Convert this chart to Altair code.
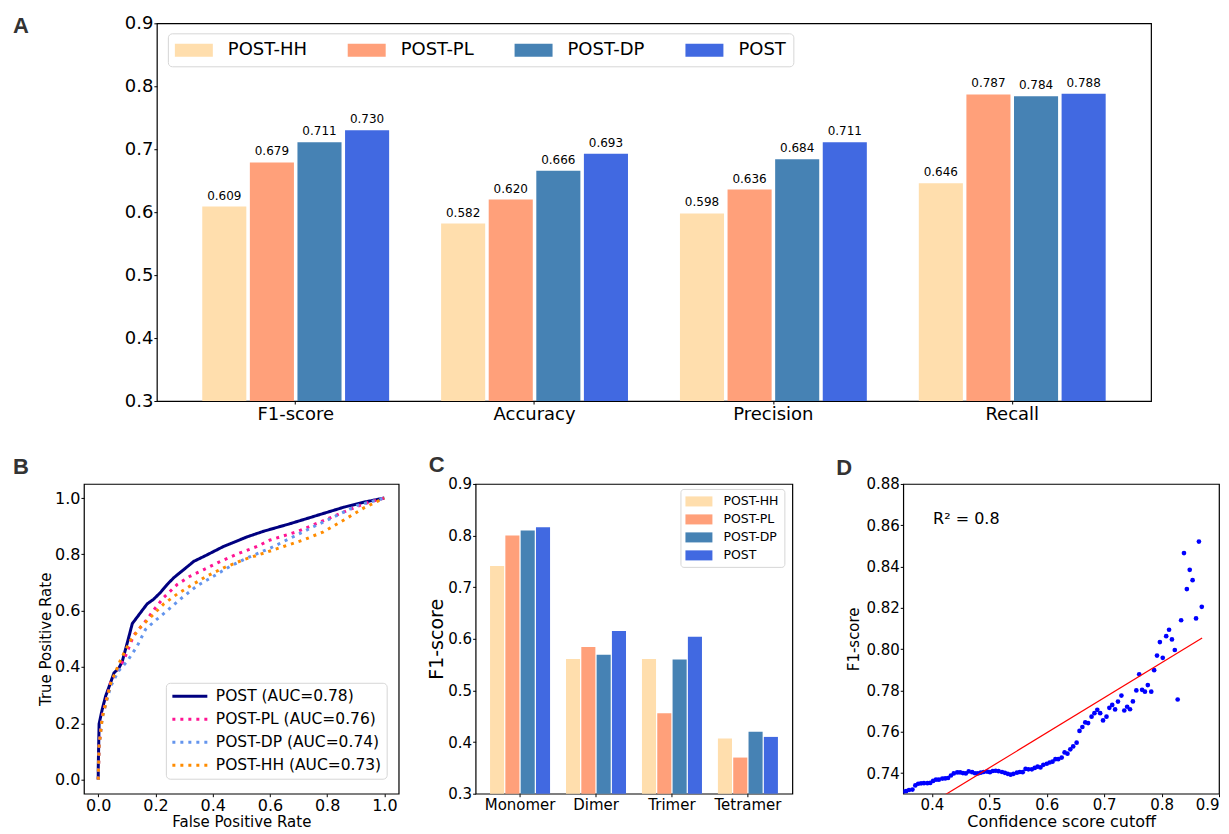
import altair as alt
import pandas as pd

FONT = "DejaVu Sans"

# ---------------- Panel A data ----------------
models = ["POST-HH", "POST-PL", "POST-DP", "POST"]
bar_colors = ["#FFDEAD", "#FFA07A", "#4682B4", "#4169E1"]
metrics = ["F1-score", "Accuracy", "Precision", "Recall"]
a_hh = [0.609, 0.582, 0.598, 0.646]
a_pl = [0.679, 0.620, 0.636, 0.787]
a_dp = [0.711, 0.666, 0.684, 0.784]
a_post = [0.730, 0.693, 0.711, 0.788]

# ---------------- Panel B data ----------------
roc_labels = ["POST (AUC=0.78)", "POST-PL (AUC=0.76)", "POST-DP (AUC=0.74)", "POST-HH (AUC=0.73)"]
roc_colors = ["#000080", "#FF1493", "#6495ED", "#FF8C00"]
roc_dashes = [[1, 0], [3, 5], [3, 5], [3, 5]]
post_fpr = [0, 0, 0.003, 0.014, 0.026, 0.043, 0.055, 0.072, 0.084, 0.101, 0.119, 0.136, 0.153, 0.171,
            0.194, 0.217, 0.241, 0.264, 0.299, 0.334, 0.38, 0.438, 0.52, 0.578, 0.671, 0.764, 0.857, 0.927, 1.0]
post_tpr = [0, 0.04, 0.198, 0.25, 0.297, 0.344, 0.379, 0.396, 0.42, 0.484, 0.554, 0.577, 0.6, 0.624,
            0.641, 0.664, 0.693, 0.717, 0.746, 0.775, 0.798, 0.828, 0.862, 0.882, 0.909, 0.938, 0.967, 0.985, 1.0]
pl_fpr = [0, 0.003, 0.014, 0.043, 0.09, 0.124, 0.159, 0.197, 0.229, 0.276, 0.322, 0.369, 0.427, 0.485,
          0.555, 0.601, 0.694, 0.776, 0.857, 0.927, 1.0]
pl_tpr = [0, 0.12, 0.227, 0.344, 0.425, 0.513, 0.554, 0.606, 0.647, 0.693, 0.723, 0.746, 0.775, 0.801,
          0.828, 0.851, 0.88, 0.915, 0.95, 0.979, 1.0]
dp_fpr = [0, 0.003, 0.014, 0.043, 0.07, 0.101, 0.136, 0.165, 0.194, 0.241, 0.287, 0.345, 0.404, 0.462,
          0.52, 0.601, 0.671, 0.752, 0.834, 0.903, 1.0]
dp_tpr = [0, 0.12, 0.22, 0.33, 0.385, 0.42, 0.474, 0.533, 0.56, 0.6, 0.641, 0.688, 0.723, 0.758,
          0.787, 0.822, 0.857, 0.898, 0.938, 0.973, 1.0]
hh_fpr = [0, 0.003, 0.014, 0.043, 0.078, 0.113, 0.148, 0.183, 0.229, 0.276, 0.322, 0.38, 0.438, 0.508,
          0.578, 0.648, 0.717, 0.787, 0.857, 0.927, 1.0]
hh_tpr = [0, 0.12, 0.22, 0.34, 0.425, 0.495, 0.542, 0.577, 0.624, 0.659, 0.688, 0.723, 0.752, 0.781,
          0.804, 0.828, 0.851, 0.88, 0.921, 0.964, 1.0]

# ---------------- Panel C data ----------------
oligomers = ["Monomer", "Dimer", "Trimer", "Tetramer"]
c_hh = [0.741, 0.561, 0.561, 0.407]
c_pl = [0.800, 0.584, 0.456, 0.370]
c_dp = [0.810, 0.569, 0.560, 0.420]
c_post = [0.816, 0.615, 0.604, 0.410]

# ---------------- Panel D data ----------------
conf_cutoff = [0.350, 0.355, 0.360, 0.366, 0.371, 0.376, 0.381, 0.386, 0.392, 0.397,
               0.402, 0.407, 0.412, 0.418, 0.423, 0.428, 0.433, 0.438, 0.444, 0.449,
               0.454, 0.459, 0.464, 0.470, 0.475, 0.480, 0.485, 0.490, 0.496, 0.501,
               0.506, 0.511, 0.516, 0.522, 0.527, 0.532, 0.537, 0.542, 0.548, 0.553,
               0.558, 0.563, 0.568, 0.574, 0.579, 0.584, 0.589, 0.594, 0.600, 0.605,
               0.610, 0.615, 0.620, 0.626, 0.631, 0.636, 0.641, 0.646, 0.652, 0.657,
               0.662, 0.667, 0.672, 0.678, 0.683, 0.688, 0.693, 0.698, 0.704, 0.709,
               0.714, 0.719, 0.724, 0.730, 0.735, 0.740, 0.745, 0.750, 0.756, 0.761,
               0.766, 0.771, 0.776, 0.782, 0.787, 0.792, 0.797, 0.802, 0.808, 0.813,
               0.818, 0.823, 0.828, 0.834, 0.839, 0.844, 0.849, 0.854, 0.860, 0.865, 0.870]
f1_scores = [0.7310, 0.7312, 0.7318, 0.7320, 0.7340, 0.7348, 0.7350, 0.7351, 0.7351, 0.7352,
             0.7362, 0.7368, 0.7368, 0.7373, 0.7374, 0.7376, 0.7388, 0.7398, 0.7403, 0.7403,
             0.7400, 0.7398, 0.7408, 0.7404, 0.7399, 0.7398, 0.7402, 0.7405, 0.7407, 0.7404,
             0.7410, 0.7411, 0.7409, 0.7405, 0.7401, 0.7396, 0.7392, 0.7396, 0.7402, 0.7405,
             0.7404, 0.7420, 0.7418, 0.7418, 0.7425, 0.7431, 0.7427, 0.7440, 0.7445, 0.7451,
             0.7455, 0.7467, 0.7467, 0.7475, 0.7500, 0.7494, 0.7515, 0.7529, 0.7547, 0.7604,
             0.7623, 0.7645, 0.7642, 0.7673, 0.7690, 0.7706, 0.7690, 0.7655, 0.7673, 0.7716,
             0.7730, 0.7708, 0.7746, 0.7775, 0.7703, 0.7721, 0.7709, 0.7747, 0.7800, 0.7878,
             0.7803, 0.7794, 0.7826, 0.7794, 0.7898, 0.7969, 0.8034, 0.7958, 0.8063, 0.8094,
             0.8047, 0.7996, 0.7756, 0.8140, 0.8465, 0.8291, 0.8384, 0.8334, 0.8149, 0.8521, 0.8205]
fit_x = [0.35, 0.8706]
fit_y = [0.7171, 0.8054]
r2_text = "R² = 0.8"


def letter(ch, dx, dy):
    return alt.Chart(pd.DataFrame({"t": [ch]})).mark_text(
        align="left", baseline="top", fontSize=22, fontWeight="bold",
        font="Liberation Sans", color="#333333"
    ).encode(x=alt.value(dx), y=alt.value(dy), text="t:N")


def qaxis(values, fmt, size, title=None, title_size=None, title_pad=1, flush=False):
    kw = dict(values=values, format=fmt, labelFontSize=size, labelFont=FONT, labelColor="black",
              tickColor="black", tickSize=3, tickWidth=1, labelPadding=1, domain=False, grid=False,
              labelFlush=flush, labelOverlap=False)
    if title is not None:
        kw.update(title=title, titleFontSize=title_size or size, titleFont=FONT,
                  titleFontWeight="normal", titleColor="black", titlePadding=title_pad)
    else:
        kw.update(title=None)
    return alt.Axis(**kw)


def naxis(size):
    return alt.Axis(title=None, labelAngle=0, labelFontSize=size, labelFont=FONT, labelColor="black",
                    tickColor="black", tickSize=3, tickWidth=1, labelPadding=1, domain=False, grid=False)


RES = dict(color="independent", strokeDash="independent", xOffset="independent")
RESL = dict(color="independent", strokeDash="independent")
ROW_H = 310

# ---------------- Panel A ----------------
rows = []
for i, m in enumerate(metrics):
    for mod, vals in zip(models, [a_hh, a_pl, a_dp, a_post]):
        rows.append({"metric": m, "modelA": mod, "value": vals[i]})
dfA = pd.DataFrame(rows)

legA = alt.Legend(title=None, orient="none", legendX=11, legendY=10, direction="horizontal", columns=4,
                  symbolType="M-1,-0.65L2.8,-0.65L2.8,0.65L-1,0.65Z", symbolSize=400,
                  symbolStrokeWidth=0, symbolOpacity=1, labelFontSize=18, labelFont=FONT,
                  labelColor="black", labelOffset=33, columnPadding=40, padding=7,
                  strokeColor="#d6d6d6", fillColor="white", cornerRadius=4, labelLimit=300)

xA = alt.X("metric:N", scale=alt.Scale(domain=metrics, paddingInner=0.2176, paddingOuter=0.19),
           axis=naxis(18))
offA = alt.XOffset("modelA:N", scale=alt.Scale(domain=models, paddingInner=0.074))
yA = alt.Y("value:Q", scale=alt.Scale(domain=[0.3, 0.9], nice=False, zero=False),
           axis=qaxis([0.3, 0.4, 0.5, 0.6, 0.7, 0.8, 0.9], ".1f", 18))
barsA = alt.Chart(dfA).mark_bar().encode(
    x=xA, xOffset=offA, y=yA, y2=alt.datum(0.3),
    color=alt.Color("modelA:N", scale=alt.Scale(domain=models, range=bar_colors), legend=legA),
)
textA = alt.Chart(dfA).mark_text(baseline="bottom", dy=-4, fontSize=12, font=FONT, color="black").encode(
    x=xA, xOffset=offA, y=yA, text=alt.Text("value:Q", format=".3f"))
panelA = alt.layer(barsA, textA).properties(width=995, height=378)

spacerA = letter("A", -71, -7).properties(width=39, height=378, view=alt.ViewBackground(strokeOpacity=0))
topRow = alt.hconcat(spacerA, panelA, spacing=0).resolve_scale(**RES).resolve_legend(**RESL)

# ---------------- Panel B ----------------
rowsB = []
for lab, fx, ty in zip(roc_labels, [post_fpr, pl_fpr, dp_fpr, hh_fpr], [post_tpr, pl_tpr, dp_tpr, hh_tpr]):
    for i, (a, b) in enumerate(zip(fx, ty)):
        rowsB.append({"curve": lab, "fpr": a, "tpr": b, "idx": i})
dfB = pd.DataFrame(rowsB)
legB = alt.Legend(title=None, orient="none", legendX=82, legendY=ROW_H - 111,
                  symbolType="M-1,0L4,0", symbolSize=196, symbolStrokeWidth=3,
                  labelFontSize=15.5, labelFont=FONT,
                  labelColor="black", labelOffset=28, rowPadding=6, padding=5, labelLimit=300,
                  strokeColor="#d6d6d6", fillColor="white", cornerRadius=4)
ticks01 = [0.0, 0.2, 0.4, 0.6, 0.8, 1.0]
linesB = alt.Chart(dfB).mark_line(strokeWidth=3).encode(
    x=alt.X("fpr:Q", scale=alt.Scale(domain=[-0.05, 1.05], nice=False, zero=False),
            axis=qaxis(ticks01, ".1f", 16, "False Positive Rate", 15, 1)),
    y=alt.Y("tpr:Q", scale=alt.Scale(domain=[-0.05, 1.05], nice=False, zero=False),
            axis=qaxis(ticks01, ".1f", 16, "True Positive Rate", 15, 1)),
    color=alt.Color("curve:N", scale=alt.Scale(domain=roc_labels, range=roc_colors), legend=legB),
    strokeDash=alt.StrokeDash("curve:N", scale=alt.Scale(domain=roc_labels, range=roc_dashes), legend=legB),
    order="idx:Q",
)
panelB = alt.layer(linesB, letter("B", -71, -27)).properties(width=315, height=ROW_H)

# ---------------- Panel C ----------------
rowsC = []
for i, o in enumerate(oligomers):
    for mod, vals in zip(models, [c_hh, c_pl, c_dp, c_post]):
        rowsC.append({"olig": o, "modelC": mod, "f1": vals[i]})
dfC = pd.DataFrame(rowsC)
legC = alt.Legend(title=None, orient="none", legendX=205, legendY=5,
                  symbolType="M-1,-0.67L2.6,-0.67L2.6,0.67L-1,0.67Z", symbolSize=225,
                  symbolStrokeWidth=0, symbolOpacity=1, labelFontSize=12.5, labelFont=FONT,
                  labelColor="black", labelOffset=23, rowPadding=4, padding=5, labelLimit=300,
                  strokeColor="#d6d6d6", fillColor="white", cornerRadius=3)
barsC = alt.Chart(dfC).mark_bar().encode(
    x=alt.X("olig:N", scale=alt.Scale(domain=oligomers, paddingInner=0.21, paddingOuter=0.19), axis=naxis(15)),
    xOffset=alt.XOffset("modelC:N", scale=alt.Scale(domain=models, paddingInner=0.08)),
    y=alt.Y("f1:Q", scale=alt.Scale(domain=[0.3, 0.9], nice=False, zero=False),
            axis=qaxis([0.3, 0.4, 0.5, 0.6, 0.7, 0.8, 0.9], ".1f", 15, "F1-score", 19, 1)),
    y2=alt.datum(0.3),
    color=alt.Color("modelC:N", scale=alt.Scale(domain=models, range=bar_colors), legend=legC),
)
panelC = alt.layer(barsC, letter("C", -47, -29)).properties(width=317, height=ROW_H)

# ---------------- Panel D ----------------
dfD = pd.DataFrame({"cut": conf_cutoff, "f1": f1_scores})
dfFit = pd.DataFrame({"cut": fit_x, "f1": fit_y})
xD = alt.X("cut:Q", scale=alt.Scale(domain=[0.35, 0.9], nice=False, zero=False),
           axis=qaxis([0.4, 0.5, 0.6, 0.7, 0.8, 0.9], ".1f", 15, "Confidence score cutoff", 16, 1, flush=1))
yD = alt.Y("f1:Q", scale=alt.Scale(domain=[0.73, 0.88], nice=False, zero=False),
           axis=qaxis([0.74, 0.76, 0.78, 0.80, 0.82, 0.84, 0.86, 0.88], ".2f", 15, "F1-score", 15, 4))
ptsD = alt.Chart(dfD).mark_circle(size=22, color="#0000FF", opacity=1, clip=True).encode(x=xD, y=yD)
fitD = alt.Chart(dfFit).mark_line(color="#FF0000", strokeWidth=1.2, clip=True).encode(x=xD, y=yD)
txtD = alt.Chart(pd.DataFrame({"t": [r2_text]})).mark_text(
    align="left", baseline="middle", fontSize=16, font=FONT, color="black"
).encode(x=alt.datum(0.402), y=alt.datum(0.8632), text="t:N")
panelD = alt.layer(ptsD, fitD, txtD, letter("D", -67, -26)).properties(width=316, height=ROW_H)

rowBC = alt.hconcat(panelB, panelC, spacing=27).resolve_scale(**RES).resolve_legend(**RESL)
row = alt.hconcat(rowBC, panelD, spacing=42).resolve_scale(**RES).resolve_legend(**RESL)
chart = alt.vconcat(topRow, row, spacing=29).resolve_scale(**RES).resolve_legend(**RESL).properties(
    padding={"left": 4, "top": 5, "right": 0, "bottom": 0}
).configure(font=FONT).configure_view(stroke="black", strokeWidth=1.2)

chart.save("out.html", embed_options={"renderer": "svg", "actions": False})
